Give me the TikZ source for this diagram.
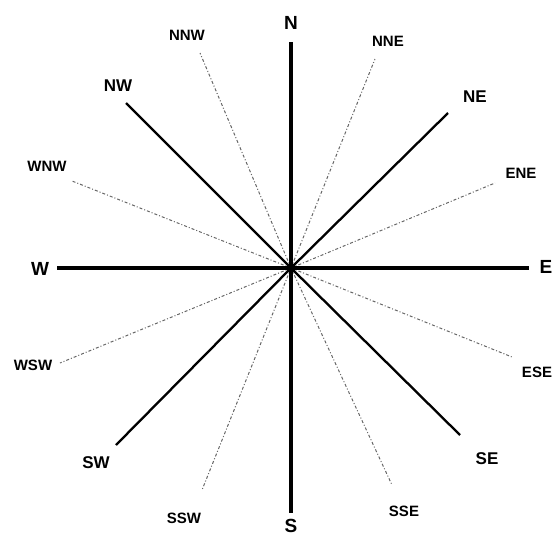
\documentclass[tikz,border=0pt]{standalone}
\usepackage{fontspec}
\setmainfont{Liberation Sans}
\usepackage{tikz}
\usetikzlibrary{positioning}

\begin{document}
\begin{tikzpicture}[x=1pt,y=-1pt,
  main/.style={line width=4pt},
  inter/.style={line width=2.3pt},
  minor/.style={black!60, line width=1pt, dash pattern=on 3pt off 2pt on 1pt off 2pt},
  cardlbl/.style={font=\bfseries\fontsize{19}{19}\selectfont},
  interlbl/.style={font=\bfseries\fontsize{17}{17}\selectfont},
  minorlbl/.style={font=\bfseries\fontsize{15}{15}\selectfont}]
  \useasboundingbox (0,0) rectangle (555,536);
  % centre of the rose
  \coordinate (o) at (291,268);
  % ends of the arms
  \coordinate (n) at (291,42);
  \coordinate (s) at (291,513);
  \coordinate (w) at (57,268);
  \coordinate (e) at (529,268);
  \coordinate (ne) at (448,113);
  \coordinate (nw) at (126,103);
  \coordinate (sw) at (116,445);
  \coordinate (se) at (460,435);
  \coordinate (nne) at (375,59);
  \coordinate (nnw) at (200,53);
  \coordinate (ene) at (495,183);
  \coordinate (wnw) at (72,181);
  \coordinate (wsw) at (60,363);
  \coordinate (ese) at (512,357);
  \coordinate (ssw) at (202,490);
  \coordinate (sse) at (392,485);
  % thin dash-dot arms
  \foreach \p in {nne,nnw,ene,wnw,wsw,ese,ssw,sse}
    \draw[minor] (o) -- (\p);
  % diagonal arms
  \foreach \p in {ne,nw,sw,se}
    \draw[inter] (o) -- (\p);
  % cardinal arms
  \draw[main] (n) -- (s);
  \draw[main] (w) -- (e);
  % labels
  \node[cardlbl] (ln) at (291,23) {N};
  \node[cardlbl] (ls) at (291,526) {S};
  \node[cardlbl] (lw) at (40,269) {W};
  \node[cardlbl] (le) at (546,267) {E};
  \node[interlbl] (lne) at (475,97) {NE};
  \node[interlbl] (lnw) at (118,86) {NW};
  \node[interlbl] (lsw) at (96,463) {SW};
  \node[interlbl] (lse) at (487,459) {SE};
  \node[minorlbl] (lnne) at (388,41) {NNE};
  \node[minorlbl] (lnnw) at (187,35) {NNW};
  \node[minorlbl] (lene) at (521,173) {ENE};
  \node[minorlbl] (lwnw) at (47,166) {WNW};
  \node[minorlbl] (lwsw) at (33,365) {WSW};
  \node[minorlbl] (lese) at (537,372) {ESE};
  \node[minorlbl] (lssw) at (184,518) {SSW};
  \node[minorlbl] (lsse) at (404,511) {SSE};
\end{tikzpicture}
\end{document}
